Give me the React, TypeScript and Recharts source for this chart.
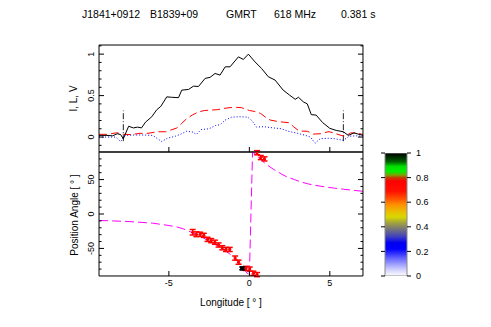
import React from "react";
import {
  ComposedChart,
  BarChart,
  Bar,
  Line,
  Scatter,
  ErrorBar,
  XAxis,
  YAxis,
  ReferenceLine,
} from "recharts";

// ---- title / labels ----
const titleParts = ["J1841+0912", "B1839+09", "GMRT", "618 MHz", "0.381 s"];
const titleX = [82, 150, 226, 274, 341];

// ---- axes ----
const lonDomain: [number, number] = [-9.34, 7.06];
const lonMajor = [-5, 0, 5];
const lonMinor = [-9, -8, -7, -6, -4, -3, -2, -1, 1, 2, 3, 4, 6, 7];
const ilvDomain: [number, number] = [-0.18, 1.11];
const ilvMajor = [0, 0.5, 1];
const ilvMinor = [-0.1, 0.1, 0.2, 0.3, 0.4, 0.6, 0.7, 0.8, 0.9, 1.1];
const paDomain: [number, number] = [-90, 90];
const paMajor = [-50, 0, 50];
const paMinor = [-80, -70, -60, -40, -30, -20, -10, 10, 20, 30, 40, 60, 70, 80];
const fracTicks = [0, 0.2, 0.4, 0.6, 0.8, 1];

// ---- profile: [longitude, value] ----
const stokesI = [
  [-9.34, 0.02], [-8.9, 0.02], [-8.5, 0.015], [-8.2, 0.04], [-8.0, 0.03], [-7.83, -0.02],
  [-7.5, 0.13], [-7.2, 0.11], [-6.95, 0.12], [-6.7, 0.11], [-6.45, 0.18], [-6.06, 0.245],
  [-5.75, 0.33], [-5.5, 0.37], [-5.13, 0.485], [-4.85, 0.48], [-4.4, 0.475], [-4.2, 0.566],
  [-3.78, 0.574], [-3.47, 0.614], [-3.16, 0.61], [-2.75, 0.707], [-2.44, 0.72], [-2.13, 0.767],
  [-1.82, 0.747], [-1.5, 0.847], [-1.2, 0.847], [-0.68, 0.967], [-0.37, 0.936], [-0.06, 1.0],
  [0.35, 0.907], [0.76, 0.827], [1.18, 0.727], [1.6, 0.687], [2.1, 0.566], [2.5, 0.506],
  [2.85, 0.455], [3.05, 0.48], [3.35, 0.425], [3.6, 0.4], [3.85, 0.27], [4.15, 0.265],
  [4.55, 0.175], [5.0, 0.105], [5.4, 0.08], [5.84, 0.064], [6.15, 0.02], [6.5, 0.05], [7.06, 0.02],
];
const linearL = [
  [-9.34, 0.033], [-8.8, 0.033], [-8.24, 0.052], [-7.83, 0.033], [-7.3, 0.03], [-6.8, 0.045],
  [-6.3, 0.045], [-5.7, 0.064], [-5.2, 0.064], [-4.8, 0.09], [-4.5, 0.11], [-4.2, 0.165],
  [-3.9, 0.22], [-3.55, 0.265], [-3.2, 0.3], [-2.8, 0.32], [-2.4, 0.325], [-2.0, 0.33],
  [-1.6, 0.345], [-1.2, 0.355], [-0.8, 0.358], [-0.5, 0.355], [-0.2, 0.335], [0.0, 0.32],
  [0.3, 0.31], [0.7, 0.285], [1.0, 0.24], [1.3, 0.205], [1.7, 0.19], [2.1, 0.18], [2.5, 0.172],
  [2.75, 0.124], [3.1, 0.072], [3.6, 0.07], [3.97, 0.036], [4.4, 0.04], [4.7, 0.055],
  [4.95, 0.065], [5.3, 0.045], [5.7, 0.02], [5.94, 0.01], [6.3, 0.05], [6.7, 0.05], [7.06, 0.03],
];
const circularV = [
  [-9.34, 0.0], [-8.8, 0.0], [-8.3, 0.0], [-8.0, -0.055], [-7.7, 0.02], [-7.1, 0.025],
  [-6.6, 0.025], [-6.0, 0.02], [-5.44, -0.055], [-5.1, -0.015], [-4.6, 0.01], [-4.2, 0.04],
  [-3.9, 0.07], [-3.5, 0.06], [-3.3, 0.03], [-3.0, 0.09], [-2.5, 0.1], [-2.1, 0.14],
  [-1.8, 0.15], [-1.5, 0.205], [-1.1, 0.24], [-0.6, 0.245], [-0.1, 0.24], [0.15, 0.2],
  [0.45, 0.12], [0.9, 0.125], [1.5, 0.11], [2.0, 0.1], [2.4, 0.07], [2.9, 0.05], [3.4, 0.025],
  [3.8, 0.0], [4.08, -0.075], [4.4, -0.02], [4.9, -0.015], [5.3, -0.02], [5.84, -0.04],
  [6.2, 0.01], [6.6, 0.015], [7.06, 0.01],
];
// on-pulse window edges (longitude) and their vertical extent
const windowEdges = [-7.83, 5.84];
const windowSpan = [-0.05, 0.32];

// ---- position angle: [longitude, PA, error] ----
const paPoints = [
  [-3.52, -26.5, 4], [-3.29, -29.4, 3.5], [-3.06, -29.4, 3], [-2.83, -31, 3], [-2.6, -36.8, 3],
  [-2.37, -38.7, 3], [-2.14, -41, 3], [-1.91, -45, 3], [-1.68, -49, 3], [-1.45, -51.5, 3],
  [-1.22, -51.5, 3], [-0.88, -64, 3], [-0.67, -70, 3], [-0.21, -79, 3], [0.02, -80, 3],
  [0.25, -86, 3], [0.48, -88, 3], [0.48, 89, 3], [0.71, 82, 3], [0.94, 80, 3],
];
const paBlack = [[-0.44, -79, 2]];
// fitted swing curve
const rvmCurve = [
  [-9.34, -9.4], [-8.5, -10], [-7.6, -10.8], [-6.8, -12], [-6.0, -13.3], [-5.0, -16.7],
  [-4.5, -18.8], [-4.1, -21.6], [-3.5, -27.5], [-3.0, -33], [-2.45, -40], [-2.0, -46],
  [-1.4, -55], [-1.0, -62], [-0.78, -67], [-0.5, -74], [-0.27, -82], [-0.1, -87], [0.0, -90],
  [0.2, 90], [0.45, 86], [0.66, 80], [1.0, 73], [1.49, 65], [2.0, 58], [2.32, 54], [2.8, 50],
  [3.15, 47], [3.6, 44], [3.98, 42], [4.4, 40.5], [4.8, 39], [5.3, 37.5], [5.84, 36],
  [6.4, 34.5], [7.06, 33],
];

// ---- colour bar ----
const cbStops = [0, 0.06, 0.14, 0.22, 0.27, 0.32, 0.375, 0.43, 0.48, 0.52, 0.58, 0.63, 0.69, 0.77, 0.8, 0.82, 0.85, 0.89, 0.93, 0.97, 1];
const cbColors = [
  "#ffffff", "#c8c8ff", "#6a6aff", "#0000ff", "#0000f0", "#4040c0", "#707080", "#a0a040",
  "#d8d800", "#e8c000", "#ff9000", "#ff5000", "#ff1000", "#ff0000", "#c04000", "#80a000",
  "#00f000", "#00e000", "#006000", "#002800", "#000000",
];

const pts = (a: number[][]) => a.map(([lon, v]) => ({ lon, v }));
const paRows = (a: number[][]) => a.map(([lon, pa, err]) => ({ lon, pa, err }));

const FONT = "'Liberation Sans', Arial, sans-serif";
// axes get a near-zero thickness so they sit right on the plot edge
const THIN = 0.01;

const noTick = () => <g />;
const vertTick = (p: any) => (
  <text
    x={p.x}
    y={p.y}
    transform={`rotate(-90 ${p.x} ${p.y})`}
    textAnchor="middle"
    fontSize={9}
    fill="#000"
  >
    {p.payload.value}
  </text>
);

// PGPLOT-like box: ticks inside on all four sides
function frame(yDomain: [number, number], yMajor: number[], yMinor: number[], xLabels: boolean) {
  const ax = { stroke: "#000", allowDataOverflow: true, interval: 0 as const, type: "number" as const };
  const minor = { ...ax, axisLine: false, tickSize: -2.5, tick: noTick };
  return [
    <XAxis key="xb" xAxisId="xb" dataKey="lon" orientation="bottom" height={THIN} domain={lonDomain}
      ticks={lonMajor} tickSize={-5} tickMargin={9} tick={xLabels ? { fontSize: 9 } : noTick} {...ax} />,
    <XAxis key="xbm" xAxisId="xbm" orientation="bottom" height={THIN} domain={lonDomain} ticks={lonMinor} {...minor} />,
    <XAxis key="xt" xAxisId="xt" orientation="top" height={THIN} domain={lonDomain} ticks={lonMajor}
      tickSize={-5} tick={noTick} {...ax} />,
    <XAxis key="xtm" xAxisId="xtm" orientation="top" height={THIN} domain={lonDomain} ticks={lonMinor} {...minor} />,
    <YAxis key="yl" yAxisId="yl" orientation="left" width={THIN} domain={yDomain} ticks={yMajor}
      tickSize={-5} tickMargin={10} tick={vertTick} {...ax} />,
    <YAxis key="ylm" yAxisId="ylm" orientation="left" width={THIN} domain={yDomain} ticks={yMinor} {...minor} />,
    <YAxis key="yr" yAxisId="yr" orientation="right" width={THIN} domain={yDomain} ticks={yMajor}
      tickSize={-5} tick={noTick} {...ax} />,
    <YAxis key="yrm" yAxisId="yrm" orientation="right" width={THIN} domain={yDomain} ticks={yMinor} {...minor} />,
  ];
}

const redDot = (p: any) => <circle cx={p.cx} cy={p.cy} r={1.6} fill="#ff0000" />;
const blackDot = (p: any) => <rect x={p.cx - 2.2} y={p.cy - 2.2} width={4.4} height={4.4} fill="#000" />;

const layer: React.CSSProperties = { position: "absolute", left: 0, top: 0 };

export default function App() {
  return (
    <div style={{ position: "absolute", left: 0, top: 0, width: 491, height: 327, background: "#fff", fontFamily: FONT, overflow: "hidden" }}>
      {/* intensity / polarisation profile */}
      <div style={layer}>
        <ComposedChart width={491} height={327} margin={{ top: 45, right: 128, bottom: 175, left: 99 }}>
          {frame(ilvDomain, ilvMajor, ilvMinor, false)}
          {windowEdges.map((e) => (
            <ReferenceLine
              key={e}
              xAxisId="xb"
              yAxisId="yl"
              segment={[{ x: e, y: windowSpan[0] }, { x: e, y: windowSpan[1] }]}
              stroke="#222"
              strokeDasharray="6 2 1 2"
            />
          ))}
          <Line xAxisId="xb" yAxisId="yl" data={pts(circularV)} dataKey="v" stroke="#0000ff"
            strokeDasharray="1 2" dot={false} isAnimationActive={false} />
          <Line xAxisId="xb" yAxisId="yl" data={pts(linearL)} dataKey="v" stroke="#ff0000"
            strokeDasharray="8 4" dot={false} isAnimationActive={false} />
          <Line xAxisId="xb" yAxisId="yl" data={pts(stokesI)} dataKey="v" stroke="#000"
            dot={false} isAnimationActive={false} />
        </ComposedChart>
      </div>

      {/* position angle */}
      <div style={layer}>
        <ComposedChart width={491} height={327} margin={{ top: 152, right: 128, bottom: 51, left: 99 }}>
          {frame(paDomain, paMajor, paMinor, true)}
          <Line xAxisId="xb" yAxisId="yl" data={paRows(rvmCurve)} dataKey="pa" stroke="#ff00ff"
            strokeDasharray="9 4" dot={false} isAnimationActive={false} />
          <Scatter xAxisId="xb" yAxisId="yl" data={paRows(paPoints)} dataKey="pa" shape={redDot} isAnimationActive={false}>
            <ErrorBar dataKey="err" direction="y" width={3} stroke="#ff0000" isAnimationActive={false} />
          </Scatter>
          <Scatter xAxisId="xb" yAxisId="yl" data={paRows(paBlack)} dataKey="pa" shape={blackDot} isAnimationActive={false}>
            <ErrorBar dataKey="err" direction="y" width={3} stroke="#000" isAnimationActive={false} />
          </Scatter>
        </ComposedChart>
      </div>

      {/* colour bar */}
      <div style={layer}>
        <BarChart width={491} height={327} data={[{ name: "c", v: 1 }]} barCategoryGap={0}
          margin={{ top: 153, right: 84, bottom: 51, left: 385 }}>
          <defs>
            <linearGradient id="cbGrad" x1="0" y1="1" x2="0" y2="0">
              {cbStops.map((s, i) => (
                <stop key={s} offset={s} stopColor={cbColors[i]} />
              ))}
            </linearGradient>
          </defs>
          <XAxis dataKey="name" hide />
          <YAxis yAxisId="l" type="number" orientation="left" width={THIN} domain={[0, 1]} allowDataOverflow
            ticks={fracTicks} interval={0} tickSize={4} tick={noTick} axisLine={false} stroke="#000" />
          <YAxis yAxisId="r" type="number" orientation="right" width={THIN} domain={[0, 1]} allowDataOverflow
            ticks={fracTicks} interval={0} tickSize={4} tickMargin={5} tick={{ fontSize: 9 }}
            axisLine={false} stroke="#000" />
          <Bar yAxisId="l" dataKey="v" fill="url(#cbGrad)" stroke="#8a8a8a" isAnimationActive={false} />
        </BarChart>
      </div>

      {/* titles */}
      <svg width={491} height={327} style={{ ...layer, pointerEvents: "none" }}>
        {titleParts.map((t, i) => (
          <text key={t} x={titleX[i]} y={17.5} fontSize={10.5} fill="#000">{t}</text>
        ))}
        <text x={77} y={98.5} transform="rotate(-90 77 98.5)" textAnchor="middle" fontSize={10}>I, L, V</text>
        <text x={77.5} y={215} transform="rotate(-90 77.5 215)" textAnchor="middle" fontSize={10}>
          Position Angle [ ° ]
        </text>
        <text x={231} y={306} textAnchor="middle" fontSize={10}>Longitude [ ° ]</text>
      </svg>
    </div>
  );
}
